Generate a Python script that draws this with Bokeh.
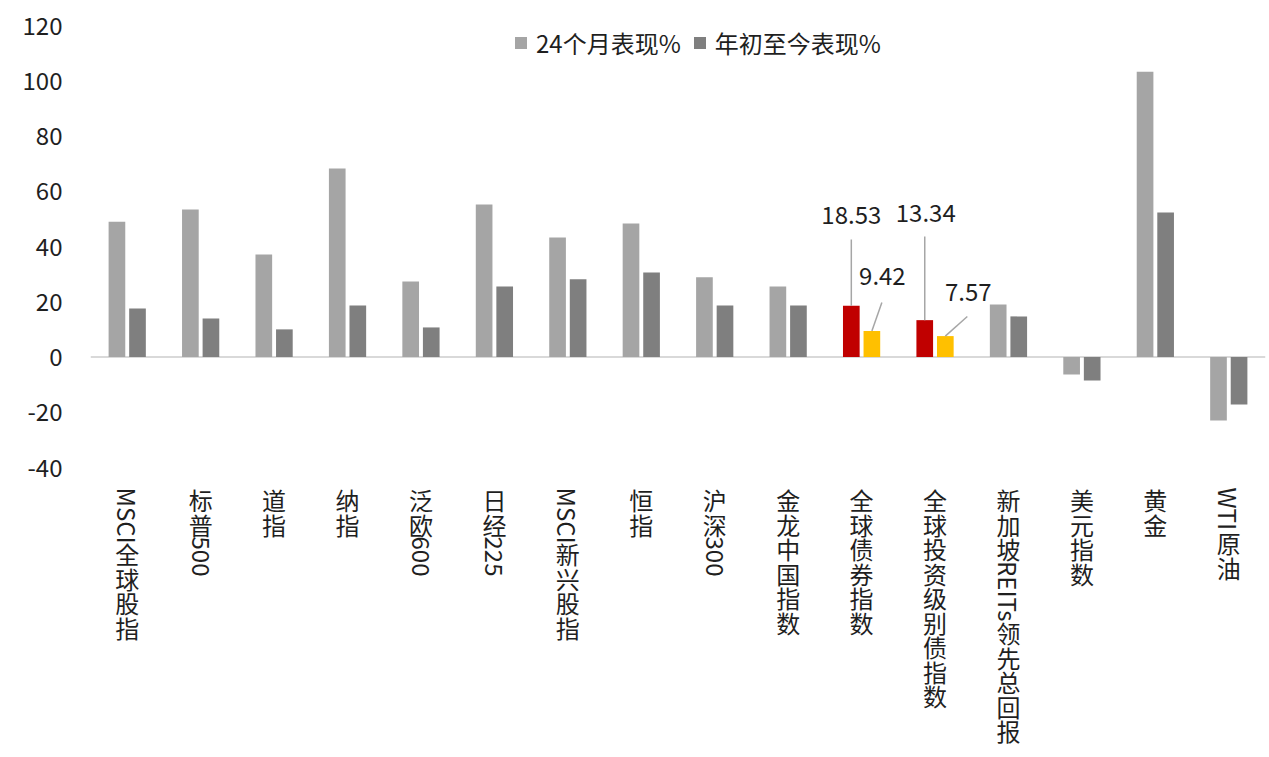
import math
from bokeh.plotting import figure
from bokeh.models import Range1d, FixedTicker, ColumnDataSource, Legend, LegendItem, Span
from bokeh.core.properties import value
from bokeh.embed import file_html
from bokeh.resources import INLINE

# ---------------- data ----------------
categories = ["MSCI全球股指", "标普500", "道指", "纳指", "泛欧600", "日经225", "MSCI新兴股指", "恒指",
              "沪深300", "金龙中国指数", "全球债券指数", "全球投资级别债指数", "新加坡REITs领先总回报",
              "美元指数", "黄金", "WTI原油"]
perf_24m = [49.0, 53.4, 37.1, 68.2, 27.3, 55.2, 43.3, 48.3, 28.9, 25.5, 18.53, 13.34, 19.0, -6.3, 103.3, -23.0]
perf_ytd = [17.6, 13.9, 10.0, 18.6, 10.7, 25.5, 28.1, 30.6, 18.6, 18.6, 9.42, 7.57, 14.7, -8.5, 52.3, -17.2]
series_names = ["24个月表现%", "年初至今表现%"]
highlighted = ["全球债券指数", "全球投资级别债指数"]
y_ticks = [-40, -20, 0, 20, 40, 60, 80, 100, 120]

# ---------------- style ----------------
FONT = "Noto Sans CJK SC"
FS = "24px"
TXT = "#1f1f1f"
C24, CYTD = "#A5A5A5", "#7F7F7F"
H24, HYTD = "#C00000", "#FFC000"
W, H = 1269, 757
L, R, T = 90, 4, 25
AX_MIN, AX_MAX = -40, 120          # visible value axis
AX_PX = 442                         # pixel height of the value axis
PX_Y = AX_PX / (AX_MAX - AX_MIN)    # px per data unit (y)
PX_X = (W - L - R) / len(categories)
Y_LOW = AX_MAX - (H - T) / PX_Y     # frame extends down to hold the category labels
OFF, BW = 0.14, 0.227

p = figure(width=W, height=H, x_range=Range1d(-0.5, len(categories) - 0.5),
           y_range=Range1d(Y_LOW, AX_MAX), output_backend="svg", toolbar_location=None,
           min_border_left=L, min_border_right=R, min_border_top=T, min_border_bottom=0)
p.outline_line_color = None
p.xgrid.visible = False
p.ygrid.visible = False
p.xaxis.visible = False
p.background_fill_color = "white"
p.border_fill_color = "white"

ya = p.yaxis[0]
ya.ticker = FixedTicker(ticks=y_ticks)
ya.major_label_overrides = {t: str(t) for t in y_ticks}
ya.axis_line_color = None
ya.major_tick_line_color = None
ya.minor_tick_line_color = None
ya.major_tick_out = 0
ya.major_tick_in = 0
ya.major_label_text_font = FONT
ya.major_label_text_font_size = FS
ya.major_label_text_color = TXT
ya.major_label_standoff = 28

idx = list(range(len(categories)))
c24 = [H24 if c in highlighted else C24 for c in categories]
cyt = [HYTD if c in highlighted else CYTD for c in categories]
s24 = ColumnDataSource(dict(x=[i - OFF for i in idx], top=perf_24m, color=c24))
syt = ColumnDataSource(dict(x=[i + OFF for i in idx], top=perf_ytd, color=cyt))

p.add_layout(Span(location=0, dimension="width", line_color="#D9D9D9", line_width=2, level="underlay"))
r24 = p.vbar(x="x", top="top", bottom=0, width=BW, source=s24, fill_color="color", line_color=None)
ryt = p.vbar(x="x", top="top", bottom=0, width=BW, source=syt, fill_color="color", line_color=None)

legend = Legend(items=[LegendItem(label=series_names[0], renderers=[r24], index=0),
                       LegendItem(label=series_names[1], renderers=[ryt], index=0)],
                orientation="horizontal", location=(423, H - T - 35),
                label_text_font=FONT, label_text_font_size=FS, label_text_color=TXT,
                glyph_width=15, glyph_height=15, label_standoff=8, spacing=11,
                padding=0, margin=0, border_line_color=None, background_fill_alpha=0)
p.add_layout(legend)

# ---------------- value annotations for highlighted bars ----------------
# (text dx px, text centre px above bar, line-top dx px, line-top px above bar)
ann_style = {
    ("全球债券指数", 0): (0, 91.3, 0, 66.3),
    ("全球债券指数", 1): (10.5, 55.0, 10, 28.5),
    ("全球投资级别债指数", 0): (1, 107.6, 0, 83.6),
    ("全球投资级别债指数", 1): (23, 43.6, 22, 19.6),
}
tx, ty, tt, x0, y0, x1, y1 = [], [], [], [], [], [], []
for (cat, s), (tdx, tdy, ldx, ldy) in ann_style.items():
    i = categories.index(cat)
    v = perf_24m[i] if s == 0 else perf_ytd[i]
    bx = i - OFF if s == 0 else i + OFF
    tx.append(bx + tdx / PX_X); ty.append(v + tdy / PX_Y); tt.append(f"{v:.2f}")
    x0.append(bx); y0.append(v); x1.append(bx + ldx / PX_X); y1.append(v + ldy / PX_Y)
p.segment(x0=x0, y0=y0, x1=x1, y1=y1, line_color="#A6A6A6", line_width=1.5)
p.text(x=tx, y=ty, text=tt, text_font=value(FONT), text_font_size=FS, text_color=TXT,
       text_align="center", text_baseline="middle")

# ---------------- vertical category labels ----------------
LAT_W = {"M": 0.74, "S": 0.54, "C": 0.57, "I": 0.27, "R": 0.59, "E": 0.53, "T": 0.53,
         "s": 0.44, "W": 0.86}
CJK_ADV = 24.5
y_start = AX_MIN - (20 / PX_Y)     # top of the label column (data units)


def runs_of(s):
    out = []
    for ch in s:
        a = ord(ch) < 128
        if out and out[-1][0] and a:
            out[-1][1] += ch
        else:
            out.append([a, ch])
    return out


cjk = dict(x=[], y=[], text=[])
lat = dict(x=[], y=[], text=[])
for i, cat in enumerate(categories):
    y = y_start
    for is_lat, run in runs_of(cat):
        if is_lat:
            lat["x"].append(i); lat["y"].append(y); lat["text"].append(run)
            wpx = sum(LAT_W.get(c, 0.554) for c in run) * 24 + 3
            y -= wpx / PX_Y
        else:
            cjk["x"].append(i); cjk["y"].append(y - (CJK_ADV / 2) / PX_Y); cjk["text"].append(run)
            y -= CJK_ADV / PX_Y

p.text(x="x", y="y", text="text", source=ColumnDataSource(cjk), text_font=value(FONT),
       text_font_size=FS, text_color=TXT, text_align="center", text_baseline="middle")
p.text(x="x", y="y", text="text", source=ColumnDataSource(lat), angle=-math.pi / 2,
       text_font=value(FONT), text_font_size=FS, text_color=TXT, text_align="left",
       text_baseline="middle")

open("out.html", "w").write(file_html(p, INLINE))
